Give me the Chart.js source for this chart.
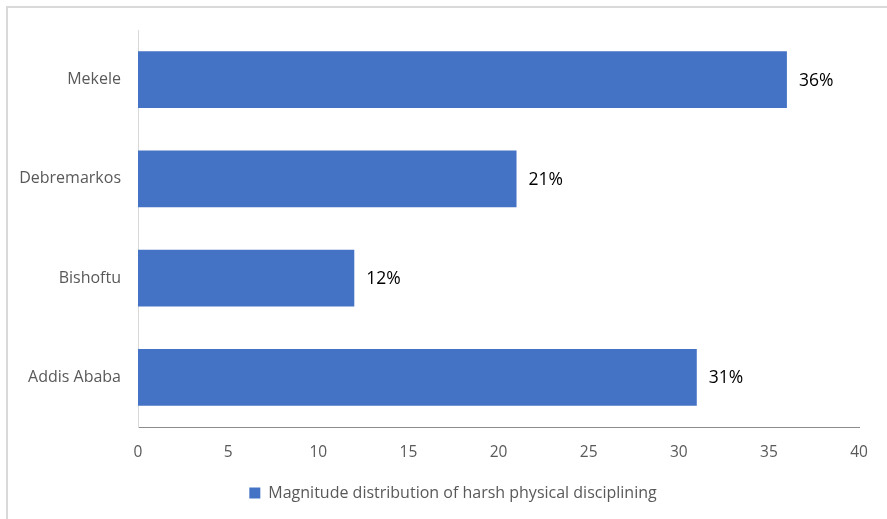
<!DOCTYPE html>
<html>
<head>
<meta charset="utf-8">
<script src="https://cdn.jsdelivr.net/npm/chart.js@4.4.0/dist/chart.umd.min.js"></script>
<style>
  html, body { margin: 0; padding: 0; background: #fff; }
  #wrap { width: 887px; height: 519px; }
</style>
</head>
<body>
<div id="wrap"><canvas id="myChart" width="887" height="519"></canvas></div>
<script>
const cities = ['Mekele', 'Debremarkos', 'Bishoftu', 'Addis Ababa']
const magnitude = [36, 21, 12, 31]
const valueLabels = ['36%', '21%', '12%', '31%']
const xTicks = [0, 5, 10, 15, 20, 25, 30, 35, 40]
const seriesName = 'Magnitude distribution of harsh physical disciplining'

const fontFamily = '"Open Sans", Lato, sans-serif'

// frame lines (top + left) like the cropped office chart
const framePlugin = {
    id: 'frame',
    beforeDraw(chart) {
        const c = chart.ctx
        c.save()
        c.strokeStyle = '#d9d9d9'
        c.lineWidth = 2
        c.beginPath()
        c.moveTo(7, 519)
        c.lineTo(7, 7)
        c.lineTo(887, 7)
        c.stroke()
        c.restore()
    },
    // nudge the legend a bit to the right, like the original
    afterLayout(chart) {
        chart.legend.left += 40
        chart.legend.width -= 40
    }
}

// percent labels at the end of each bar
const valuePlugin = {
    id: 'valueLabels',
    afterDatasetsDraw(chart) {
        const c = chart.ctx
        const meta = chart.getDatasetMeta(0)
        c.save()
        c.fillStyle = '#000'
        c.font = '17.5px ' + fontFamily
        c.textAlign = 'left'
        c.textBaseline = 'middle'
        meta.data.forEach(function(bar, i) {
            c.fillText(valueLabels[i], bar.x + 12, bar.y + 1)
        })
        c.restore()
    }
}

const data = {
    labels: cities,
    datasets: [{
        label: seriesName,
        data: magnitude,
        backgroundColor: '#4472c4',
        borderWidth: 0,
        categoryPercentage: 1,
        barPercentage: 0.57
    }]
}

const config = {
    type: 'bar',
    data: data,
    plugins: [framePlugin, valuePlugin],
    options: {
        indexAxis: 'y',
        responsive: false,
        animation: false,
        layout: { padding: { left: 7, right: 28, top: 30, bottom: 8 } },
        scales: {
            x: {
                min: 0,
                max: 40,
                afterBuildTicks(scale) {
                    scale.ticks = xTicks.map(v => ({ value: v }))
                },
                afterFit(scale) { scale.height = 48 },
                grid: { display: false, drawTicks: false },
                border: { display: true, color: '#8c8c8c', width: 1 },
                ticks: {
                    padding: 16,
                    color: '#595959',
                    font: { family: fontFamily, size: 15.5 }
                }
            },
            y: {
                afterFit(scale) { scale.width = 131 },
                grid: { display: false, drawTicks: false },
                border: { display: true, color: '#d9d9d9', width: 1 },
                ticks: {
                    padding: 17,
                    color: '#595959',
                    font: { family: fontFamily, size: 16 }
                }
            }
        },
        plugins: {
            legend: {
                position: 'bottom',
                labels: {
                    boxWidth: 11,
                    boxHeight: 11,
                    padding: 10,
                    color: '#595959',
                    font: { family: fontFamily, size: 16 }
                }
            },
            tooltip: { enabled: false }
        }
    }
}

const myChart = new Chart(document.getElementById('myChart'), config)
</script>
</body>
</html>
